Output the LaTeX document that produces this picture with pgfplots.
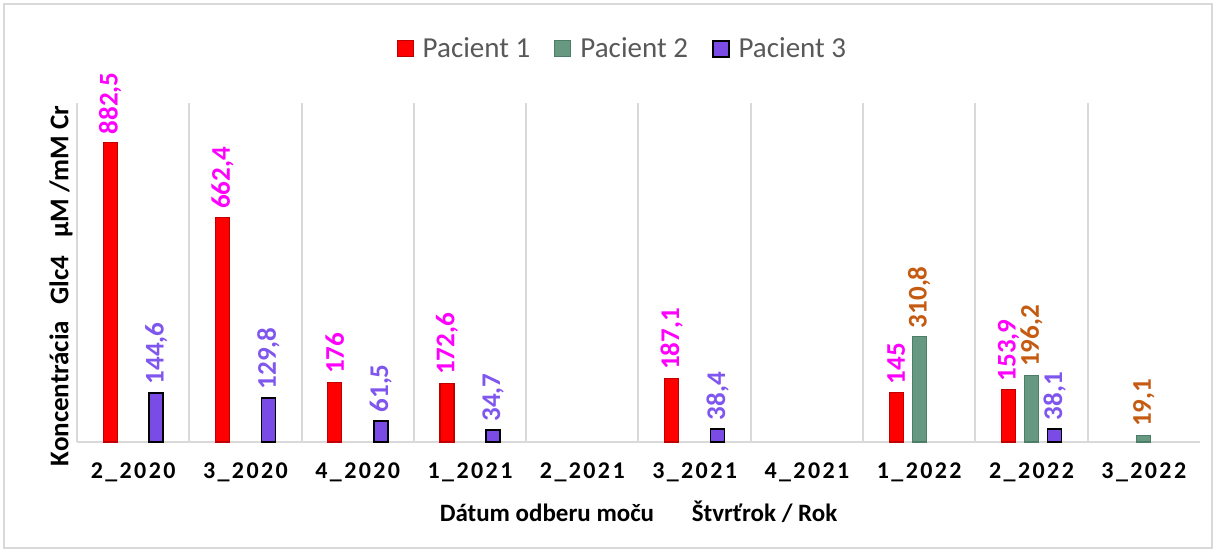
\documentclass[border=0pt]{standalone}
\usepackage{fontspec}
\setmainfont{Carlito}
\usepackage{pgfplots}
\pgfplotsset{compat=1.18}
\definecolor{p1}{HTML}{FF0000}
\definecolor{p1d}{HTML}{C00000}
\definecolor{p2}{HTML}{669882}
\definecolor{p2d}{HTML}{4D7D67}
\definecolor{p3}{HTML}{7B4BE6}
\definecolor{l1}{HTML}{FF00FF}
\definecolor{l2}{HTML}{C55A11}
\definecolor{l3}{HTML}{7F56EE}
\definecolor{gridc}{HTML}{D9D9D9}
\definecolor{legt}{HTML}{595959}
\begin{document}
\begin{tikzpicture}
\useasboundingbox (0,0) rectangle (608.5pt,276pt);
\draw[gridc, line width=0.6pt] (2pt,2pt) rectangle (606pt,274pt);
\begin{axis}[
  at={(38.5pt,55pt)}, anchor=south west,
  scale only axis,
  width=561.5pt, height=169.5pt,
  xmin=-0.5, xmax=9.5, ymin=0, ymax=1000,
  ybar=4.5pt, bar width=7pt,
  axis x line*=bottom, axis y line*=left,
  axis line style={gridc, line width=0.8pt},
  ytick=\empty,
  xtick={0,...,9},
  xticklabels={2\_2020,3\_2020,4\_2020,1\_2021,2\_2021,3\_2021,4\_2021,1\_2022,2\_2022,3\_2022},
  xticklabel style={font=\fontsize{12}{14}\selectfont\bfseries\addfontfeatures{LetterSpace=10}, yshift=-7pt},
  major tick length=0pt,
  minor xtick={0.5,1.5,...,8.5},
  minor tick length=0pt,
  xminorgrids=true,
  minor grid style={gridc, line width=1pt},
  /pgf/number format/assume math mode=true,
  xlabel={Dátum odberu moču\hspace{16pt} Štvrťrok / Rok},
  xlabel style={font=\fontsize{12.5}{15}\selectfont\bfseries, yshift=-2.5pt},
  ylabel={Koncentrácia\hspace{5pt} Glc4\hspace{6pt} µM /mM Cr},
  ylabel style={at={(axis description cs:0,0.46)}, anchor=south, font=\fontsize{13.5}{16}\selectfont\bfseries, inner sep=2pt},
  legend style={at={(axis description cs:0.4865,1.16)}, anchor=center, draw=none, legend columns=3,
    font=\fontsize{14.5}{17}\selectfont\color{legt},
    /tikz/every odd column/.append style={column sep=2.5pt},
    /tikz/every even column/.append style={column sep=10pt}},
  legend image code/.code={\draw[#1, bar width=0pt] (0pt,-4pt) rectangle (8pt,4pt);},
  nodes near coords={\pgfmathprintnumber[fixed,precision=1,use comma]{\pgfplotspointmeta}},
  every node near coord/.append style={rotate=90, anchor=west, inner xsep=4pt, inner ysep=0pt, font=\fontsize{13.5}{16}\selectfont\bfseries},
  clip=false,
]
\addplot[fill=p1, draw=p1d, line width=0.6pt, every node near coord/.append style={text=l1}] coordinates {
 (0,882.5) (1,662.4) (2,176) (3,172.6) (5,187.1) (7,145) (8,153.9)};
\addlegendentry{Pacient 1}
\addplot[fill=p2, draw=p2d, line width=0.6pt, every node near coord/.append style={text=l2}] coordinates {
 (7,310.8) (8,196.2) (9,19.1)};
\addlegendentry{Pacient 2}
\addplot[fill=p3, draw=black, line width=0.8pt, every node near coord/.append style={text=l3}] coordinates {
 (0,144.6) (1,129.8) (2,61.5) (3,34.7) (5,38.4) (8,38.1)};
\addlegendentry{Pacient 3}
\end{axis}
\end{tikzpicture}
\end{document}
